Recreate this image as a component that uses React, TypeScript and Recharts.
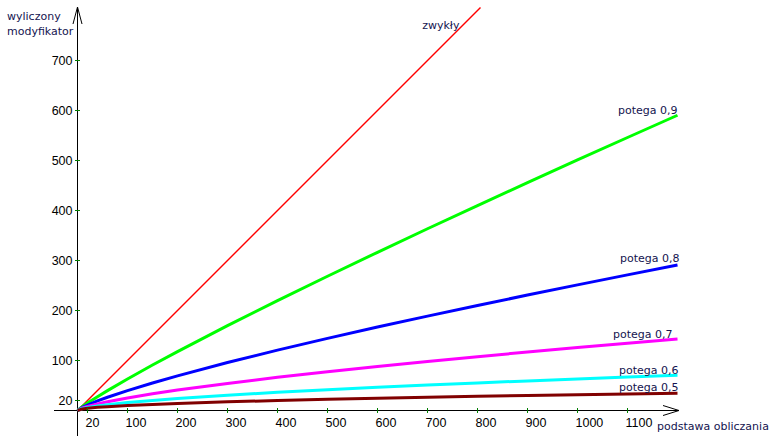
import React from 'react';
import { LineChart, Line, XAxis, YAxis, ReferenceLine, ReferenceDot } from 'recharts';

// x positions (podstawa obliczania) at which curve values were read
const X_VALUES = [0, 10, 20, 40, 60, 100, 150, 200, 300, 400, 500, 600, 700, 800, 900, 1000, 1100, 1200];

// wyliczony modyfikator values
const POTEGA_09 = [0, 7.9, 14.8, 27.7, 39.8, 63.1, 90.9, 117.8, 169.6, 219.7, 268.5, 316.4, 363.5, 409.8, 455.7, 501.2, 546.0, 590.5];
const POTEGA_08 = [0, 6.3, 11.0, 19.1, 26.5, 39.8, 55.1, 69.3, 95.9, 120.7, 144.3, 166.9, 188.8, 210.1, 230.9, 251.2, 271.2, 290.9];
const POTEGA_07 = [0, 5.0, 8.1, 13.2, 17.6, 25.1, 33.4, 40.8, 54.2, 66.3, 77.5, 88.0, 98.1, 107.7, 116.9, 125.9, 134.6, 143.0];
const POTEGA_06 = [0, 4.0, 6.0, 9.2, 11.7, 15.8, 20.2, 24.0, 30.6, 36.4, 41.6, 46.4, 50.9, 55.2, 59.2, 63.1, 66.8, 70.4];
const POTEGA_05 = [0, 3.2, 4.5, 6.3, 7.7, 10.0, 12.2, 14.1, 17.3, 20.0, 22.4, 24.5, 26.5, 28.3, 30.0, 31.6, 33.2, 34.6];

const ZWYKLY_X = [0, 806];
const ZWYKLY_Y = [0, 806];

const X_TICKS = [20, 100, 200, 300, 400, 500, 600, 700, 800, 900, 1000, 1100];
const Y_TICKS = [20, 100, 200, 300, 400, 500, 600, 700];

const X_DOMAIN = [-47, 1203];
const Y_DOMAIN = [-51, 807];

const LABEL_FONT = "'DejaVu Sans', Verdana, sans-serif";
const TICK_FONT = "'Liberation Sans Narrow', 'Liberation Sans', Arial, sans-serif";
const TEXT_COLOR = '#141450';
const TICK_COLOR = '#008000';

type Series = {
  name: string;
  xs: number[];
  ys: number[];
  color: string;
  width: number;
  dx: number;
  dy: number;
};

const SERIES: Series[] = [
  { name: 'zwykły', xs: ZWYKLY_X, ys: ZWYKLY_Y, color: '#ff0000', width: 1.4, dx: -21, dy: 21 },
  { name: 'potega 0,9', xs: X_VALUES, ys: POTEGA_09, color: '#00ff00', width: 3, dx: 0, dy: -1 },
  { name: 'potega 0,8', xs: X_VALUES, ys: POTEGA_08, color: '#0000ff', width: 3, dx: 2, dy: -3 },
  { name: 'potega 0,7', xs: X_VALUES, ys: POTEGA_07, color: '#ff00ff', width: 3, dx: -5, dy: -1 },
  { name: 'potega 0,6', xs: X_VALUES, ys: POTEGA_06, color: '#00ffff', width: 3, dx: 1, dy: -1 },
  { name: 'potega 0,5', xs: X_VALUES, ys: POTEGA_05, color: '#800000', width: 3, dx: 1, dy: -2 },
];

const toData = (xs: number[], ys: number[]) => xs.map((x, i) => ({ x, y: ys[i] }));

export default function App() {
  return (
    <div style={{ position: 'absolute', left: 0, top: 0, width: 775, height: 443, background: '#ffffff' }}>
      <LineChart width={775} height={443} margin={{ top: 7, right: 96, bottom: 7, left: 54 }}>
        <XAxis type="number" dataKey="x" domain={X_DOMAIN} allowDataOverflow hide ticks={X_TICKS} />
        <YAxis type="number" dataKey="y" domain={Y_DOMAIN} allowDataOverflow hide ticks={Y_TICKS} />
        <ReferenceLine y={0} stroke="#000000" strokeWidth={1} ifOverflow="visible" shapeRendering="crispEdges" />
        <ReferenceLine x={0} stroke="#000000" strokeWidth={1} ifOverflow="visible" shapeRendering="crispEdges" />
        {X_TICKS.map((v) => (
          <ReferenceDot
            key={'xt' + v}
            x={v}
            y={0}
            ifOverflow="visible"
            shape={(p: any) => (
              <g>
                <line x1={p.cx} x2={p.cx} y1={p.cy - 2.5} y2={p.cy + 2.5} stroke={TICK_COLOR} strokeWidth={1} shapeRendering="crispEdges" />
                <text x={p.cx - 2} y={p.cy + 16.5} textAnchor="start" fontFamily={TICK_FONT} fontSize={12.5} fill="#000000">
                  {String(v)}
                </text>
              </g>
            )}
          />
        ))}
        {Y_TICKS.map((v) => (
          <ReferenceDot
            key={'yt' + v}
            x={0}
            y={v}
            ifOverflow="visible"
            shape={(p: any) => (
              <g>
                <line x1={p.cx - 2.5} x2={p.cx + 2.5} y1={p.cy} y2={p.cy} stroke={TICK_COLOR} strokeWidth={1} shapeRendering="crispEdges" />
                <text x={p.cx - 5} y={p.cy + 4.5} textAnchor="end" fontFamily={TICK_FONT} fontSize={12.5} fill="#000000">
                  {String(v)}
                </text>
              </g>
            )}
          />
        ))}
        <ReferenceDot
          x={X_DOMAIN[1]}
          y={0}
          ifOverflow="visible"
          shape={(p: any) => (
            <path
              d={`M${p.cx - 16},${p.cy - 5} L${p.cx},${p.cy} L${p.cx - 16},${p.cy + 5}`}
              fill="none"
              stroke="#000000"
              strokeWidth={1}
            />
          )}
        />
        <ReferenceDot
          x={0}
          y={Y_DOMAIN[1]}
          ifOverflow="visible"
          shape={(p: any) => (
            <path
              d={`M${p.cx - 4.5},${p.cy + 17} L${p.cx},${p.cy} L${p.cx + 4.5},${p.cy + 17}`}
              fill="none"
              stroke="#000000"
              strokeWidth={1}
            />
          )}
        />
        {SERIES.map((s) => (
          <Line
            key={s.name}
            data={toData(s.xs, s.ys)}
            dataKey="y"
            type="linear"
            stroke={s.color}
            strokeWidth={s.width}
            dot={false}
            activeDot={false}
            isAnimationActive={false}
          />
        ))}
        {SERIES.map((s) => (
          <ReferenceDot
            key={'lbl' + s.name}
            x={s.xs[s.xs.length - 1]}
            y={s.ys[s.ys.length - 1]}
            ifOverflow="visible"
            shape={(p: any) => (
              <text
                x={p.cx + s.dx}
                y={p.cy + s.dy}
                textAnchor="end"
                fontFamily={LABEL_FONT}
                fontSize={11}
                fill={TEXT_COLOR}
              >
                {s.name}
              </text>
            )}
          />
        ))}
      </LineChart>
      <svg
        width={775}
        height={443}
        style={{ position: 'absolute', left: 0, top: 0, pointerEvents: 'none' }}
      >
        <text x={7} y={20} fontFamily={LABEL_FONT} fontSize={11} fill={TEXT_COLOR}>wyliczony</text>
        <text x={7} y={35} fontFamily={LABEL_FONT} fontSize={11} fill={TEXT_COLOR}>modyfikator</text>
        <text x={657} y={429.5} fontFamily={LABEL_FONT} fontSize={11} fill={TEXT_COLOR}>podstawa obliczania</text>
      </svg>
    </div>
  );
}
